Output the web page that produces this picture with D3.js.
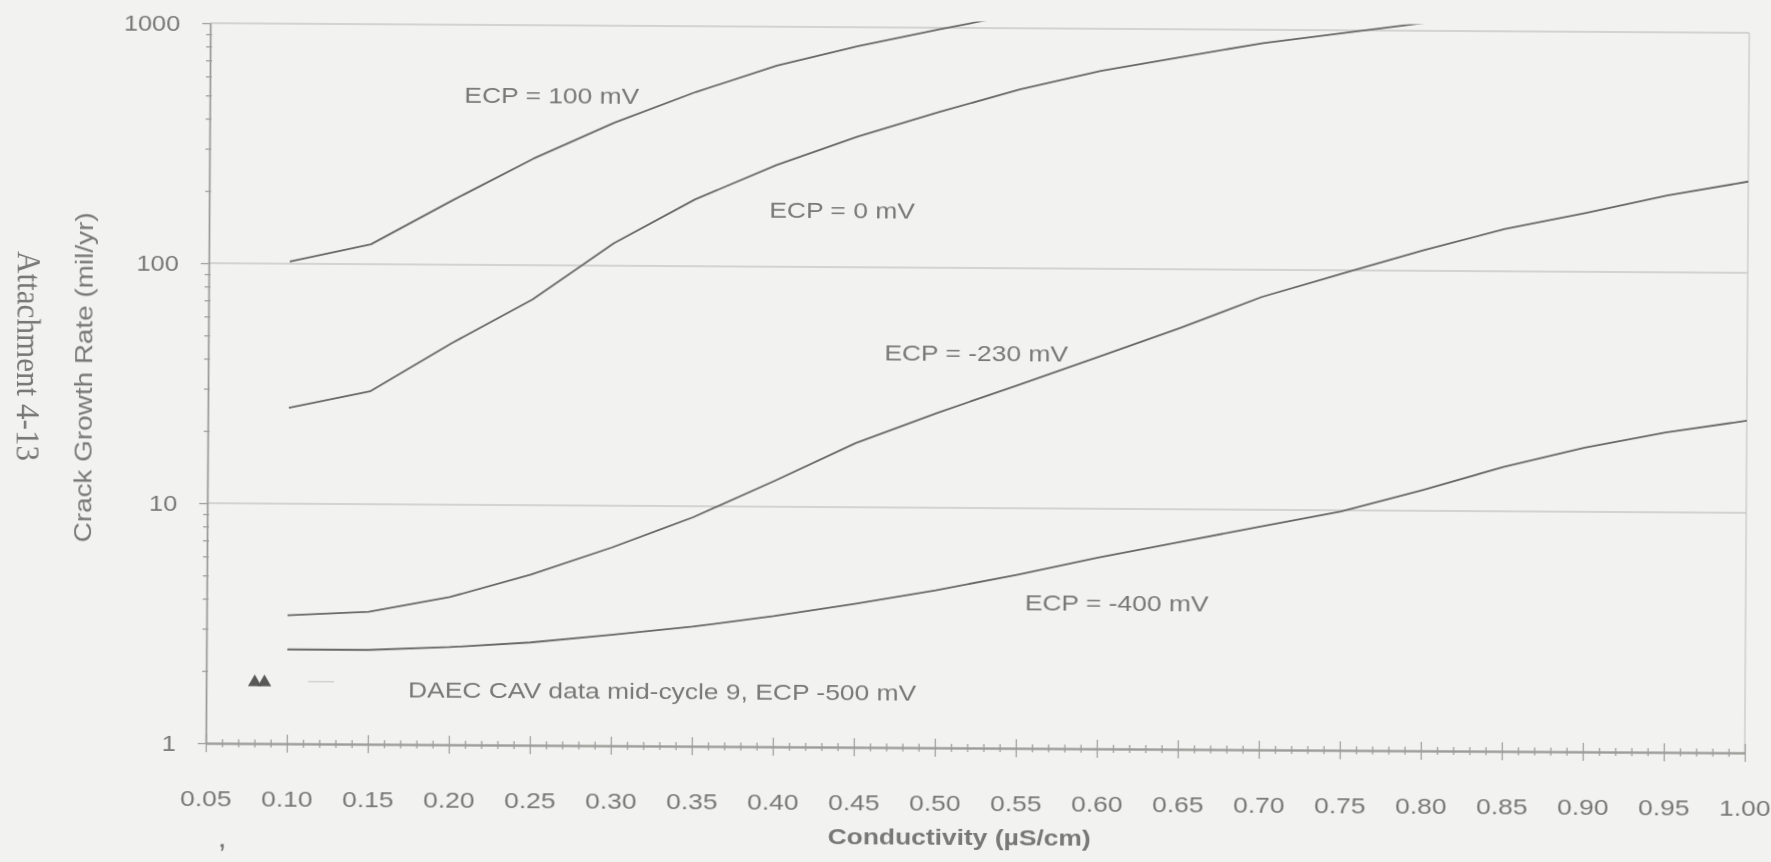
<!DOCTYPE html>
<html>
<head>
<meta charset="utf-8">
<script src="https://cdn.jsdelivr.net/npm/d3@7"></script>
<style>
  html, body { margin: 0; padding: 0; background: #f2f2f0; }
  svg { display: block; }
  text { font-family: "Liberation Sans", Arial, sans-serif; fill: #787878; }
</style>
</head>
<body>
<svg id="chart" width="1771" height="862"></svg>
<script>
// Conductivity (µS/cm) at which each curve is tabulated
const conductivity = [0.10, 0.15, 0.20, 0.25, 0.30, 0.35, 0.40, 0.45, 0.50, 0.55,
                      0.60, 0.65, 0.70, 0.75, 0.80, 0.85, 0.90, 0.95, 1.00];

// Crack growth rate (mil/yr) for each ECP level
const rateEcp100  = [102, 121, 185, 278, 395, 532, 688, 835, 985, 1150];
const rateEcp0    = [25.1, 29.5, 47, 72, 124, 190, 265, 350, 445, 556, 668, 768, 880, 975, 1080];
const rateEcpM230 = [3.43, 3.56, 4.12, 5.14, 6.7, 9.0, 12.8, 18.5, 24.8, 32.6, 43, 57, 77, 97, 122, 150, 176, 209, 240];
const rateEcpM400 = [2.47, 2.47, 2.55, 2.68, 2.9, 3.15, 3.5, 3.96, 4.53, 5.28, 6.25, 7.3, 8.5, 9.9, 12.2, 15.3, 18.5, 21.5, 24.2];

// Curve labels
const curveLabels = ["ECP = 100 mV", "ECP = 0 mV", "ECP = -230 mV", "ECP = -400 mV"];

// Plant data (DAEC CAV, mid-cycle 9)
const daecConductivity = [0.080, 0.086];
const daecRate = [1.8, 1.8];
const daecLabel = "DAEC CAV data mid-cycle 9, ECP -500 mV";

// Axes
const xTickValues = [0.05, 0.10, 0.15, 0.20, 0.25, 0.30, 0.35, 0.40, 0.45, 0.50,
                     0.55, 0.60, 0.65, 0.70, 0.75, 0.80, 0.85, 0.90, 0.95, 1.00];
const xTickLabels = ["0.05", "0.10", "0.15", "0.20", "0.25", "0.30", "0.35", "0.40", "0.45", "0.50",
                     "0.55", "0.60", "0.65", "0.70", "0.75", "0.80", "0.85", "0.90", "0.95", "1.00"];
const yTickValues = [1, 10, 100, 1000];
const yTickLabels = ["1", "10", "100", "1000"];
const xTitle = "Conductivity (\u00B5S/cm)";
const yTitle = "Crack Growth Rate (mil/yr)";
const pageNote = "Attachment 4-13";

const svg = d3.select("#chart");
const plotLeft = 208, plotRight = 1747, plotTop = 28, plotBottom = 748;

const x = d3.scaleLinear().domain([0.05, 1.00]).range([plotLeft, plotRight]);
const y = d3.scaleLog().domain([1, 1000]).range([plotBottom, plotTop]);

// soft focus of the printed page
const defs = svg.append("defs");
defs.append("filter").attr("id", "soft")
  .append("feGaussianBlur").attr("stdDeviation", 0.55);
defs.append("clipPath").attr("id", "plotClip")
  .append("rect").attr("x", plotLeft).attr("y", plotTop - 6.5)
  .attr("width", plotRight - plotLeft).attr("height", plotBottom - plotTop + 6.5);

// the page sits slightly askew
const page = svg.append("g")
  .attr("transform", "rotate(0.36, 977, 388)")
  .attr("filter", "url(#soft)");

const gridColor = "#c9c9c7", axisColor = "#9b9b99", lineColor = "#686868";

function widen(sel, k) {
  sel.each(function () {
    const len = this.getComputedTextLength();
    d3.select(this).attr("textLength", len * k).attr("lengthAdjust", "spacingAndGlyphs");
  });
}

// horizontal gridlines
page.append("g").selectAll("line")
  .data(yTickValues.filter(v => v > 1))
  .join("line")
  .attr("x1", plotLeft).attr("x2", plotRight)
  .attr("y1", d => y(d)).attr("y2", d => y(d))
  .attr("stroke", gridColor).attr("stroke-width", 1.3);

// right plot border
page.append("line")
  .attr("x1", plotRight).attr("x2", plotRight).attr("y1", plotTop).attr("y2", plotBottom)
  .attr("stroke", gridColor).attr("stroke-width", 1.3);

// x axis: labelled major ticks crossing the axis, small minor ticks
const xMinor = d3.range(5, 101).filter(i => i % 5 !== 0).map(i => i / 100);
const xAxisG = page.append("g").attr("transform", `translate(0,${plotBottom})`);
xAxisG.call(d3.axisBottom(x).tickValues(xTickValues)
  .tickFormat((d, i) => xTickLabels[i]).tickSizeInner(9).tickSizeOuter(0).tickPadding(38));
xAxisG.append("g").call(d3.axisTop(x).tickValues(xTickValues)
  .tickFormat("").tickSizeInner(9).tickSizeOuter(0));
xAxisG.append("g").call(d3.axisBottom(x).tickValues(xMinor)
  .tickFormat("").tickSizeInner(4).tickSizeOuter(0));
xAxisG.append("g").call(d3.axisTop(x).tickValues(xMinor)
  .tickFormat("").tickSizeInner(4).tickSizeOuter(0));
xAxisG.selectAll("path.domain").attr("stroke", axisColor).attr("stroke-width", 1.3);
xAxisG.selectAll(".tick line").attr("stroke", axisColor).attr("stroke-width", 1.2);
xAxisG.selectAll(".tick text")
  .style("font-family", '"Liberation Sans", Arial, sans-serif')
  .attr("font-size", 22).attr("fill", "#777");
widen(xAxisG.selectAll(".tick text"), 1.2);

// y axis: decades with outward ticks, log minor ticks
const yMinor = [];
[1, 10, 100].forEach(base => { for (let m = 2; m <= 9; m++) yMinor.push(base * m); });
const yAxisG = page.append("g").attr("transform", `translate(${plotLeft},0)`);
yAxisG.call(d3.axisLeft(y).tickValues(yTickValues)
  .tickFormat((d, i) => yTickLabels[i]).tickSizeInner(8).tickSizeOuter(0).tickPadding(22));
yAxisG.append("g").call(d3.axisLeft(y).tickValues(yMinor)
  .tickFormat("").tickSizeInner(4).tickSizeOuter(0));
yAxisG.append("g").call(d3.axisRight(y).tickValues(yMinor)
  .tickFormat("").tickSizeInner(2).tickSizeOuter(0));
yAxisG.selectAll("path.domain").attr("stroke", axisColor).attr("stroke-width", 1.3);
yAxisG.selectAll(".tick line").attr("stroke", axisColor).attr("stroke-width", 1.2);
yAxisG.selectAll(".tick text")
  .style("font-family", '"Liberation Sans", Arial, sans-serif')
  .attr("font-size", 22).attr("fill", "#777");
widen(yAxisG.selectAll(".tick text"), 1.15);

// ECP curves
const series = [rateEcp100, rateEcp0, rateEcpM230, rateEcpM400];
const line = d3.line().x(d => x(d[0])).y(d => y(d[1])).curve(d3.curveLinear);
page.append("g").attr("clip-path", "url(#plotClip)")
  .selectAll("path")
  .data(series.map(s => s.map((v, i) => [conductivity[i], v])))
  .join("path")
  .attr("d", line)
  .attr("fill", "none").attr("stroke", lineColor).attr("stroke-width", 1.8)
  .attr("stroke-linejoin", "round");

// curve labels
const labelPos = [[550, 106], [841, 219], [976, 361], [1118, 610]];
const labels = page.append("g").selectAll("text")
  .data(curveLabels)
  .join("text")
  .attr("x", (d, i) => labelPos[i][0]).attr("y", (d, i) => labelPos[i][1])
  .attr("text-anchor", "middle").attr("font-size", 22).attr("fill", "#7c7c7c")
  .text(d => d);
widen(labels, 1.2);

// DAEC plant data points and legend text
page.append("g").selectAll("path")
  .data(daecConductivity.map((c, i) => [c, daecRate[i]]))
  .join("path")
  .attr("transform", d => `translate(${x(d[0])},${y(d[1])})`)
  .attr("d", d3.symbol(d3.symbolTriangle).size(80))
  .attr("fill", "#595959");
page.append("line")
  .attr("x1", 310).attr("x2", 336).attr("y1", y(1.8) - 1).attr("y2", y(1.8) - 1)
  .attr("stroke", "#d2d2d0").attr("stroke-width", 1.5);
const daecText = page.append("text")
  .attr("x", 410).attr("y", 701).attr("font-size", 22).attr("fill", "#7c7c7c")
  .text(daecLabel);
widen(daecText, 1.2);

// axis titles
const xt = page.append("text")
  .attr("x", 962).attr("y", 845).attr("text-anchor", "middle")
  .attr("font-size", 22).attr("font-weight", "bold").attr("fill", "#6a6a6a")
  .text(xTitle);
widen(xt, 1.2);

page.append("text")
  .attr("transform", "translate(92,383) rotate(-90)")
  .attr("text-anchor", "middle").attr("font-size", 23).attr("fill", "#707070")
  .text(yTitle)
  .attr("textLength", 330).attr("lengthAdjust", "spacingAndGlyphs");

// page annotation in the margin
page.append("text")
  .attr("transform", "translate(17,362) rotate(90)")
  .attr("text-anchor", "middle").attr("font-size", 33)
  .style("font-family", '"Liberation Serif", "Times New Roman", serif')
  .attr("fill", "#6e6e6e")
  .text(pageNote)
  .attr("textLength", 210).attr("lengthAdjust", "spacingAndGlyphs");

page.append("text")
  .attr("x", 222).attr("y", 852).attr("font-size", 22).attr("font-weight", "bold")
  .attr("fill", "#6a6a6a").text(",");
</script>
</body>
</html>
